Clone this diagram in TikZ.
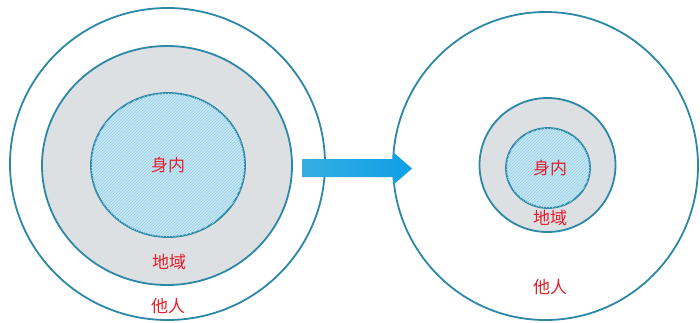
\documentclass[tikz,border=0pt]{standalone}
\usepackage{fontspec}
\newfontfamily\cjk{Noto Sans CJK SC}
\usetikzlibrary{patterns}
\definecolor{ringline}{HTML}{2C88A6}
\definecolor{grayfill}{HTML}{DDE0E3}
\definecolor{innerfill}{HTML}{C4E6F4}
\definecolor{hatch}{HTML}{9ACFE6}
\definecolor{labelred}{HTML}{E41E2B}
\definecolor{arrowA}{HTML}{35AEE2}
\definecolor{arrowB}{HTML}{0E9FE6}
\tikzset{
  ring/.style={draw=ringline, line width=1.8pt},
  grayring/.style={ring, fill=grayfill},
  innerring/.style={ring, fill=innerfill, postaction={pattern=north east lines, pattern color=hatch}},
  lbl/.style={text=labelred, font=\cjk\fontsize{17}{20}\selectfont, inner sep=0pt}
}
\begin{document}
\begin{tikzpicture}[x=1pt,y=-1pt]
\useasboundingbox (0,0) rectangle (700,322);
\fill[white] (0,0) rectangle (700,322);
% left group
\draw[ring] (167.5,164) ellipse [x radius=157.5, y radius=156];
\draw[grayring] (167,165.5) ellipse [x radius=125, y radius=119.5];
\draw[innerring] (168,165) ellipse [x radius=77, y radius=72];
\node[lbl] (lin) at (168,165) {身内};
\node[lbl] (lmid) at (169,262) {地域};
\node[lbl] (lout) at (168,306) {他人};
% right group
\draw[ring] (545.5,166) ellipse [x radius=152.5, y radius=154];
\draw[grayring] (547.5,165) ellipse [x radius=68, y radius=67];
\draw[innerring] (548,168) ellipse [x radius=42, y radius=40];
\node[lbl] (rin) at (550,168) {身内};
\node[lbl] (rmid) at (550,218) {地域};
\node[lbl] (rout) at (550,287) {他人};
% arrow
\shade[left color=arrowA, right color=arrowB]
  (302,159) -- (393,159) -- (393,152) -- (412,168.5) -- (393,185) -- (393,177) -- (302,177) -- cycle;
\end{tikzpicture}
\end{document}
